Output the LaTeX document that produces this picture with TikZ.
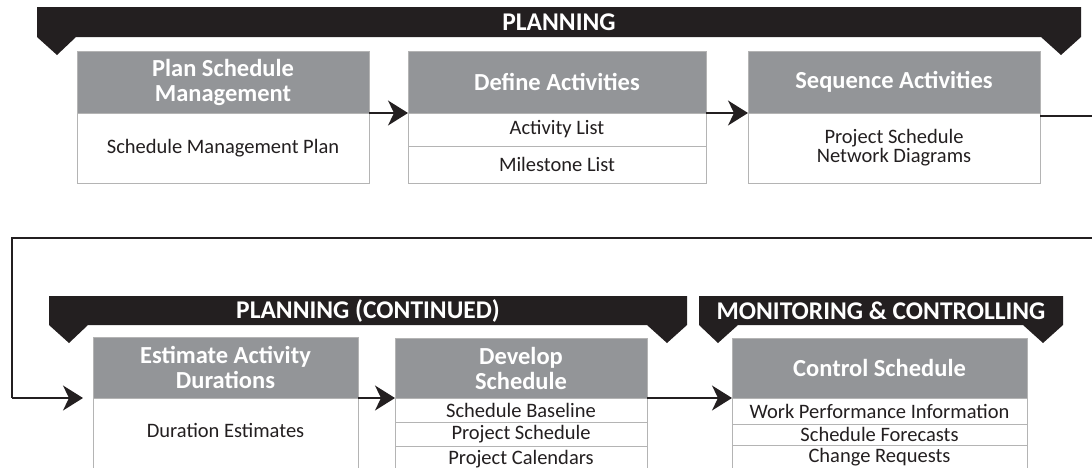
\documentclass[tikz,border=0pt]{standalone}
\usepackage{fontspec}
\setmainfont{Carlito}
\usetikzlibrary{arrows.meta}
\definecolor{bannerc}{HTML}{231F20}
\definecolor{hdrgray}{HTML}{939598}
\definecolor{boxline}{HTML}{B4B4B4}
\definecolor{txt}{HTML}{231F20}
\tikzset{
  banner/.style={fill=bannerc},
  bannertext/.style={text=white, font=\bfseries\fontsize{25.5}{27}\selectfont, inner sep=0},
  hdr/.style={fill=hdrgray, draw=boxline, line width=1pt, text=white,
    font=\bfseries\fontsize{24.5}{25}\selectfont, align=center, inner sep=0, outer sep=0},
  cell/.style={fill=white, draw=boxline, line width=1pt, text=txt,
    font=\fontsize{20.5}{20}\selectfont, align=center, inner sep=0, outer sep=0},
  celltext/.style={text=txt, font=\fontsize{20.5}{20}\selectfont, align=center, inner sep=0},
  flow/.style={draw=bannerc, line width=1.4pt,
    -{Stealth[length=20pt,width=25pt,inset=6pt]}},
  link/.style={draw=bannerc, line width=1.4pt}
}
\begin{document}
\begin{tikzpicture}[x=1pt,y=-1pt]
\useasboundingbox (0,0) rectangle (1092,467);
\clip (0,0) rectangle (1092,467);

% phase banners
\fill[banner] (37,7) -- (1081,7) -- (1081,37) -- (1061,55) -- (1041,37)
  -- (76,37) -- (57,55) -- (37,37) -- cycle;
\node[bannertext] (ban1) at (559,22) {PLANNING};

\fill[banner] (49,296) -- (687,296) -- (687,325) -- (667,343) -- (647,325)
  -- (88,325) -- (69,343) -- (49,325) -- cycle;
\node[bannertext] (ban2) at (368,311) {PLANNING (CONTINUED)};

\fill[banner] (699,296) -- (1063,296) -- (1063,325) -- (1043,343) -- (1023,325)
  -- (738,325) -- (718,343) -- (699,325) -- cycle;
\node[bannertext] (ban3) at (881,311) {MONITORING \& CONTROLLING};

% Plan Schedule Management
\node[hdr, minimum width=292pt, minimum height=62pt] (h1) at (223,82) {Plan Schedule\\Management};
\node[cell, minimum width=292pt, minimum height=70pt] (b1) at (223,148) {Schedule Management Plan};

% Define Activities
\node[hdr, minimum width=298pt, minimum height=62pt] (h2) at (557,82) {Define Activities};
\node[cell, minimum width=298pt, minimum height=33pt] (b2a) at (557,129.5) {Activity List};
\node[cell, minimum width=298pt, minimum height=37pt] (b2b) at (557,164.5) {Milestone List};

% Sequence Activities
\node[hdr, minimum width=292pt, minimum height=62pt] (h3) at (894,82) {Sequence Activities};
\node[cell, minimum width=292pt, minimum height=70pt] (b3) at (894,148)
  {Project Schedule\\[-1pt]Network Diagrams};

% Estimate Activity Durations
\node[hdr, minimum width=265pt, minimum height=61pt] (h4) at (225.5,367.5) {Estimate Activity\\Durations};
\node[cell, minimum width=265pt, minimum height=100pt] (b4) at (225.5,448) {};
\node[celltext] (t4) at (225.5,430) {Duration Estimates};

% Develop Schedule
\node[hdr, minimum width=252pt, minimum height=60pt] (h5) at (521,368) {Develop\\Schedule};
\node[cell, minimum width=252pt, minimum height=24pt] (b5a) at (521,410) {Schedule Baseline};
\node[cell, minimum width=252pt, minimum height=25pt] (b5b) at (521,434.5) {Project Schedule};
\node[cell, minimum width=252pt, minimum height=25pt] (b5c) at (521,459) {Project Calendars};

% Control Schedule
\node[hdr, minimum width=295pt, minimum height=60pt] (h6) at (879.5,368) {Control Schedule};
\node[cell, minimum width=295pt, minimum height=26pt] (b6a) at (879.5,411) {Work Performance Information};
\node[cell, minimum width=295pt, minimum height=21pt] (b6b) at (879.5,434.5) {Schedule Forecasts};
\node[cell, minimum width=295pt, minimum height=25pt] (b6c) at (879.5,457.5) {Change Requests};

% connectors
\draw[flow] (h1.south east) -- (h2.south west);
\draw[flow] (h2.south east) -- (h3.south west);
\coordinate (r1) at (1110,116);
\coordinate (r2) at (1110,238);
\coordinate (l1) at (12,238);
\coordinate (l2) at (12,398);
\coordinate (e4) at (83,398);
\draw[link] ([yshift=-3pt]h3.south east) -- (r1) -- (r2) -- (l1) -- (l2);
\draw[flow] (l2) -- (e4);
\draw[flow] (h4.south east) -- (h5.south west);
\draw[flow] (h5.south east) -- (h6.south west);
\end{tikzpicture}
\end{document}
